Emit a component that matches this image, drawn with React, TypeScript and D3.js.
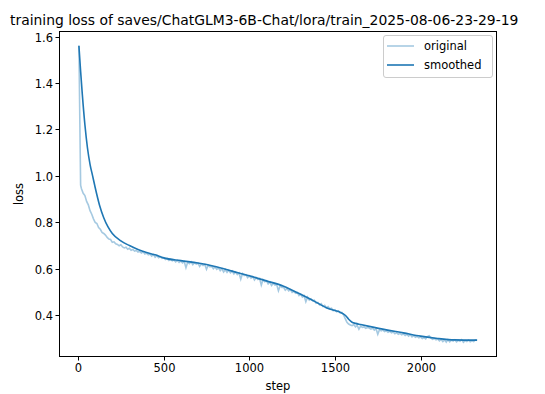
import React, { useMemo } from 'react';
import * as d3 from 'd3';

// Chart data
const title = 'training loss of saves/ChatGLM3-6B-Chat/lora/train_2025-08-06-23-29-19';

const origSteps = [5, 10, 15, ...d3.range(20, 2340, 10)];
const origLoss = [
  1.56, 1.26, 0.96,
  0.945, 0.925, 0.915, 0.89, 0.875, 0.85, 0.835, 0.815,
  0.8, 0.795, 0.778, 0.77, 0.757, 0.752, 0.745, 0.735, 0.728, 0.726,
  0.714, 0.716, 0.708, 0.705, 0.699, 0.703, 0.694, 0.69, 0.693, 0.684,
  0.688, 0.68, 0.683, 0.676, 0.679, 0.672, 0.675, 0.668, 0.673, 0.664,
  0.668, 0.66, 0.664, 0.655, 0.662, 0.65, 0.657, 0.648, 0.652, 0.645,
  0.648, 0.64, 0.644, 0.636, 0.641, 0.634, 0.638, 0.63, 0.636, 0.628,
  0.634, 0.625, 0.631, 0.605, 0.628, 0.622, 0.63, 0.618, 0.626, 0.62,
  0.624, 0.61, 0.621, 0.614, 0.619, 0.598, 0.616, 0.609, 0.612, 0.6,
  0.608, 0.598, 0.604, 0.592, 0.6, 0.586, 0.597, 0.585, 0.594, 0.583,
  0.59, 0.578, 0.586, 0.575, 0.582, 0.555, 0.579, 0.571, 0.574, 0.562,
  0.57, 0.56, 0.566, 0.552, 0.562, 0.554, 0.558, 0.53, 0.553, 0.544,
  0.548, 0.535, 0.543, 0.528, 0.538, 0.53, 0.532, 0.505, 0.527, 0.52,
  0.52, 0.508, 0.515, 0.505, 0.51, 0.498, 0.503, 0.495, 0.498, 0.485,
  0.49, 0.478, 0.484, 0.458, 0.478, 0.465, 0.471, 0.462, 0.465, 0.452,
  0.455, 0.445, 0.45, 0.438, 0.443, 0.432, 0.437, 0.428, 0.43, 0.42,
  0.424, 0.415, 0.418, 0.41, 0.412, 0.402, 0.385, 0.37, 0.362, 0.358,
  0.355, 0.36, 0.35, 0.356, 0.34, 0.353, 0.348, 0.35, 0.344, 0.347,
  0.345, 0.34, 0.344, 0.336, 0.342, 0.318, 0.338, 0.333, 0.336, 0.33,
  0.333, 0.327, 0.331, 0.324, 0.328, 0.32, 0.325, 0.318, 0.322, 0.316,
  0.32, 0.313, 0.318, 0.31, 0.316, 0.307, 0.312, 0.305, 0.309, 0.303,
  0.306, 0.3, 0.304, 0.298, 0.308, 0.312, 0.302, 0.296, 0.3, 0.294,
  0.298, 0.29, 0.296, 0.287, 0.294, 0.284, 0.295, 0.286, 0.293, 0.289,
  0.294, 0.285, 0.292, 0.288, 0.295, 0.284, 0.291, 0.287, 0.293, 0.286,
  0.29, 0.287, 0.294, 0.291,
];

const smoothSteps = [
  5, 15, 25, 40, 55, 70, 85, 100, 125, 150, 175, 200, 250, 300, 350, 400, 450,
  500, 600, 700, 800, 900, 1000, 1100, 1200, 1300, 1400, 1450, 1500, 1530,
  1560, 1580, 1600, 1620, 1650, 1700, 1800, 1900, 2000, 2100, 2200, 2330,
];
const smoothLoss = [
  1.56, 1.45, 1.35, 1.22, 1.12, 1.05, 1.0, 0.95, 0.875, 0.82, 0.78, 0.752, 0.72,
  0.7, 0.683, 0.67, 0.66, 0.647, 0.635, 0.625, 0.61, 0.59, 0.57, 0.548, 0.525,
  0.49, 0.452, 0.432, 0.42, 0.413, 0.4, 0.383, 0.37, 0.365, 0.36, 0.352, 0.337,
  0.324, 0.31, 0.3, 0.294, 0.293,
];

const xTicks = [0, 500, 1000, 1500, 2000];
const yTicks = [0.4, 0.6, 0.8, 1.0, 1.2, 1.4, 1.6];

const W = 545;
const H = 394;
const plot = { left: 59, right: 497, top: 31, bottom: 357 };
const blue = '#1f77b4';
const font = 'DejaVu Sans, sans-serif';

export default function App() {
  const { x, y } = useMemo(() => {
    const [x0, x1] = d3.extent(origSteps) as [number, number];
    const [y0, y1] = d3.extent([...origLoss, ...smoothLoss]) as [number, number];
    const px = (x1 - x0) * 0.05;
    const py = (y1 - y0) * 0.05;
    return {
      x: d3.scaleLinear().domain([x0 - px, x1 + px]).range([plot.left, plot.right]),
      y: d3.scaleLinear().domain([y0 - py, y1 + py]).range([plot.bottom, plot.top]),
    };
  }, []);

  const line = d3
    .line<[number, number]>()
    .x(d => x(d[0]))
    .y(d => y(d[1]));
  const smoothLine = line.curve(d3.curveMonotoneX);

  const orig = origSteps.map((s, i) => [s, origLoss[i]] as [number, number]);
  const smooth = smoothSteps.map((s, i) => [s, smoothLoss[i]] as [number, number]);
  const origPath = d3.line<[number, number]>().x(d => x(d[0])).y(d => y(d[1]))(orig) || '';

  const lx = 387;
  const ly = 46;

  return (
    <svg
      width={W}
      height={H}
      style={{ position: 'absolute', left: 0, top: 0, background: '#fff' }}
      fontFamily={font}
    >
      <rect width={W} height={H} fill="#fff" />
      <text x={10} y={25} fontSize={13.9} fill="#000">
        {title}
      </text>

      <path d={origPath} fill="none" stroke={blue} strokeOpacity={0.4} strokeWidth={1.6} />
      <path d={smoothLine(smooth) || ''} fill="none" stroke={blue} strokeWidth={1.6} />

      <rect
        x={plot.left + 0.5}
        y={plot.top + 0.5}
        width={plot.right - plot.left - 1}
        height={plot.bottom - plot.top - 1}
        fill="none"
        stroke="#000"
        strokeWidth={1}
      />

      {xTicks.map(t => (
        <g key={t} transform={`translate(${Math.round(x(t)) + 0.5},${plot.bottom})`}>
          <line y2={3.5} stroke="#000" />
          <text y={15} textAnchor="middle" fontSize={11.5} fill="#000">
            {t}
          </text>
        </g>
      ))}
      {yTicks.map(t => (
        <g key={t} transform={`translate(${plot.left},${Math.round(y(t)) + 0.5})`}>
          <line x2={-3.5} stroke="#000" />
          <text x={-6} dy="0.35em" textAnchor="end" fontSize={11.5} fill="#000">
            {t.toFixed(1)}
          </text>
        </g>
      ))}

      <text x={(plot.left + plot.right) / 2} y={390} textAnchor="middle" fontSize={11.5} fill="#000">
        step
      </text>
      <text
        transform={`translate(23,${(plot.top + plot.bottom) / 2}) rotate(-90)`}
        textAnchor="middle"
        fontSize={11.5}
        fill="#000"
      >
        loss
      </text>

      <g>
        <rect x={383.5} y={35.5} width={109} height={42} rx={2.5} fill="#fff" fillOpacity={0.8} stroke="#ccc" />
        <line x1={lx} x2={lx + 27} y1={ly} y2={ly} stroke={blue} strokeOpacity={0.4} strokeWidth={1.6} />
        <text x={lx + 37} y={ly} dy="0.35em" fontSize={11.5} fill="#000">
          original
        </text>
        <line x1={lx} x2={lx + 27} y1={ly + 19} y2={ly + 19} stroke={blue} strokeWidth={1.6} />
        <text x={lx + 37} y={ly + 19} dy="0.35em" fontSize={11.5} fill="#000">
          smoothed
        </text>
      </g>
    </svg>
  );
}
